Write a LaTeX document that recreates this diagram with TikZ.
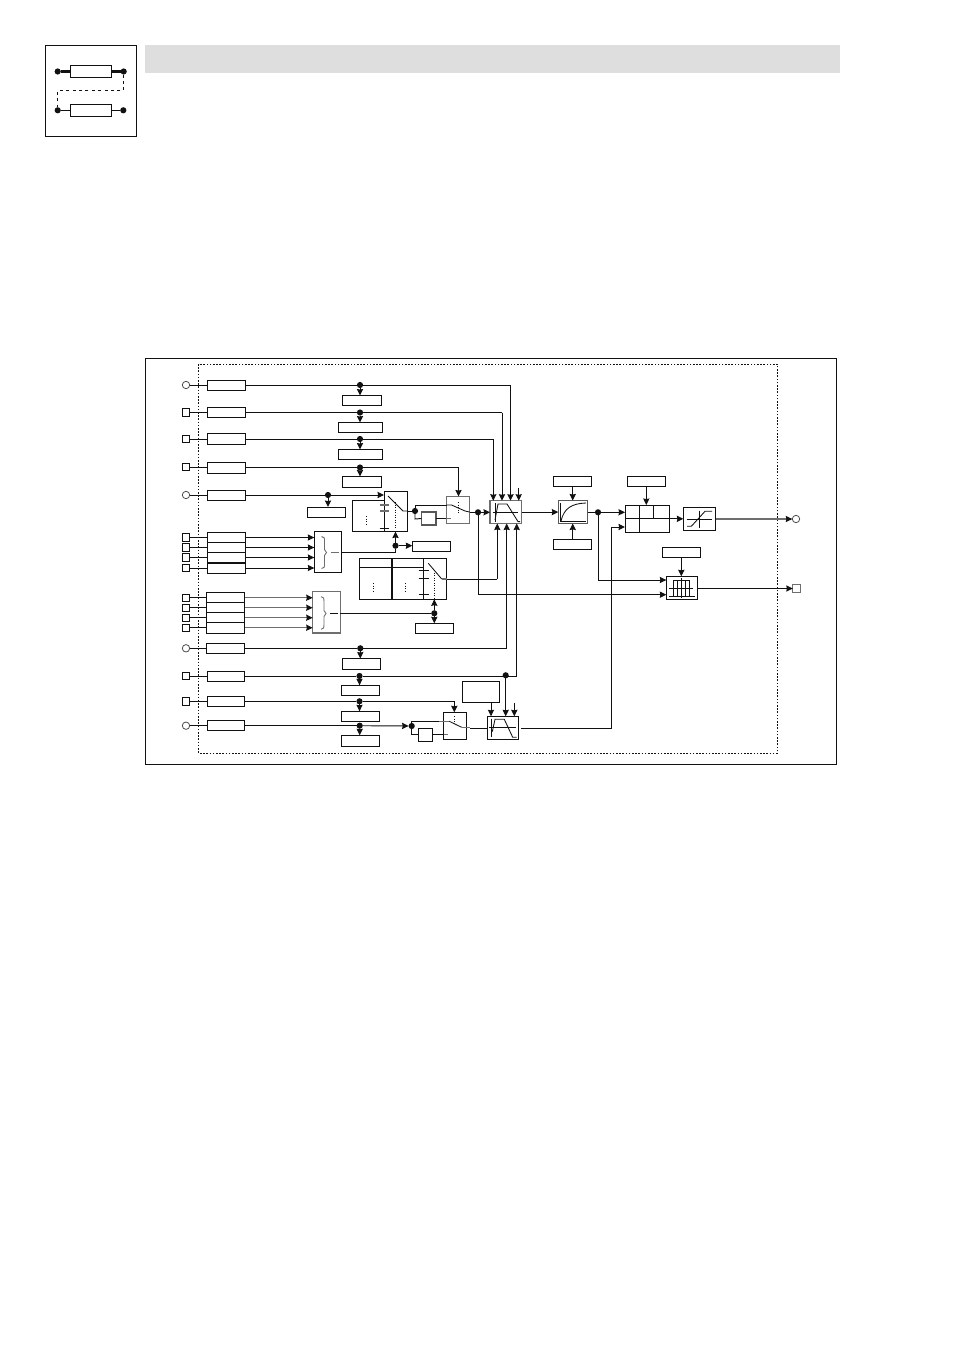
\documentclass[tikz,border=0pt]{standalone}
\usetikzlibrary{arrows.meta}
\definecolor{ink}{HTML}{111111}
\definecolor{soft}{HTML}{6E6E6E}
\definecolor{band}{HTML}{DEDEDE}
\tikzset{
  boxst/.style={draw=ink,line width=0.95pt,rectangle,inner sep=0pt,outer sep=0pt,fill=white},
  softbox/.style={boxst,draw=soft,line width=1.2pt},
  darksoft/.style={boxst,draw=ink!70!white,line width=1.2pt},
  insq/.style={draw=ink,line width=0.8pt,rectangle,inner sep=0pt,outer sep=0pt,minimum size=7.4pt,fill=white},
  incirc/.style={draw=ink!75!white,line width=0.8pt,circle,inner sep=0pt,outer sep=0pt,minimum size=7.4pt,fill=white},
  dotst/.style={circle,fill=ink,inner sep=0pt,outer sep=0pt,minimum size=6.2pt},
  wire/.style={draw=ink,line width=0.95pt},
  softwire/.style={draw=soft,line width=1.1pt},
  arr/.style={wire,-{Stealth[length=6.5pt,width=6.2pt,inset=0.6pt]}},
  softarr/.style={draw=soft,line width=1.1pt,-{Stealth[length=6.5pt,width=6.2pt,inset=0.6pt,color=ink]}},
  thin line/.style={draw=ink,line width=0.85pt},
  dotline/.style={draw=ink,line width=0.85pt,dash pattern=on 1.3pt off 1.2pt},
  framedash/.style={draw=ink,line width=0.7pt,dash pattern=on 1.6pt off 1.6pt},
}
\newcommand\bx[6][boxst]{%
  \pgfmathsetmacro\bxw{#5-#3}\pgfmathsetmacro\bxh{#6-#4}%
  \pgfmathsetmacro\bxx{(#5+#3)/2}\pgfmathsetmacro\bxy{(#6+#4)/2}%
  \node[#1,minimum width=\bxw pt,minimum height=\bxh pt] (#2) at (\bxx,\bxy) {};}
\newcommand\dt[3]{\node[dotst] (#1) at (#2,#3) {};}
\begin{document}
\begin{tikzpicture}[x=1pt,y=-1pt]
\useasboundingbox (0,0) rectangle (953,1348);
% header
\bx[draw=none,fill=band,rectangle,inner sep=0pt]{head}{145}{45}{840}{73}
\bx{icon}{45.5}{45}{136.5}{136}
\bx{ictop}{70}{65.3}{111.7}{77.7}
\bx{icbot}{70}{104.3}{111.7}{116.3}
\dt{ia}{57.7}{71.5}\dt{ib}{123.7}{71.5}\dt{ic}{57.7}{110.3}\dt{id}{123.3}{110.3}
\draw[ink,line width=2.6pt] (ia) -- (ictop) (ictop) -- (ib);
\draw[wire] (ic) -- (icbot) (icbot) -- (id);
\draw[draw=ink,line width=0.9pt,dash pattern=on 3pt off 3.4pt] (ib) -- (123.7,90.5) -- (57.7,90.5) -- (ic);
% frame
\bx{frame}{145.5}{358.5}{836.5}{764.5}
\draw[ink,line width=1.5pt] (frame.north east) -- (frame.south east);
\draw[framedash] (198.5,364) rectangle (777.5,753);

% ---- rows of inputs
\node[incirc] (i1) at (186,385) {};
\node[insq]   (i2) at (186,412.5) {};
\node[insq]   (i3) at (186,439) {};
\node[insq]   (i4) at (186,467) {};
\node[incirc] (i5) at (186,495) {};
\node[insq]   (g1) at (186,537.5) {};
\node[insq]   (g2) at (186,547.5) {};
\node[insq]   (g3) at (186,557.5) {};
\node[insq]   (g4) at (186,568) {};
\node[insq]   (h1) at (186,597.7) {};
\node[insq]   (h2) at (186,607.7) {};
\node[insq]   (h3) at (186,617.7) {};
\node[insq]   (h4) at (186,627.7) {};
\node[incirc] (i6) at (186,648.3) {};
\node[insq]   (i7) at (186,676) {};
\node[insq]   (i8) at (186,701.3) {};
\node[incirc] (i9) at (186,725.7) {};

\bx{b1}{207.5}{380}{245.5}{390}
\bx{b2}{207.5}{407.5}{245.5}{417.5}
\bx{b3}{207.5}{433.5}{245.5}{444.5}
\bx{b4}{207.5}{462}{245.5}{473}
\bx{b5}{207.5}{490}{245.5}{500}
\bx{c1}{207.5}{532.5}{245.5}{542.5}
\bx{c2}{207.5}{542.5}{245.5}{552.5}
\bx{c3}{207.5}{552.5}{245.5}{562.5}
\bx{c4}{207.5}{563}{245.5}{573}
\draw[ink,line width=1.5pt] (c4.north west) -- (c4.north east);
\bx{d1}{206.5}{592.5}{244.5}{602.5}
\bx{d2}{206.5}{602.5}{244.5}{612.5}
\bx{d3}{206.5}{612.5}{244.5}{622.5}
\bx{d4}{206.5}{622.5}{244.5}{633}
\draw[ink,line width=1.5pt] (d1.south west) -- (d1.south east) (d4.north west) -- (d4.north east);
\bx{b6}{206.5}{643.3}{244.5}{653.3}
\bx{b7}{207.3}{671}{244.5}{681}
\bx{b8}{207.3}{696.3}{244.5}{706.3}
\bx{b9}{207.3}{720.7}{244.5}{730.7}

\foreach \a/\b in {i1/b1,i2/b2,i3/b3,i4/b4,i5/b5,g1/c1,g2/c2,g3/c3,g4/c4,h1/d1,h2/d2,h3/d3,h4/d4,i6/b6,i7/b7,i8/b8,i9/b9}
  \draw[wire] (\a) -- (\a -| \b.west);

% side boxes under rows
\bx{p1}{342}{395.5}{381}{405.5}
\bx{p2}{338}{422.5}{382.5}{432.5}
\bx{p3}{338}{449.5}{382.5}{459.5}
\bx{p4}{342}{476.5}{381}{487}
\bx{p5}{307.5}{507}{345.5}{517.5}
\bx{p6}{342.3}{658.5}{380.7}{669.3}
\bx{p7}{341.3}{685.3}{379.7}{695.7}
\bx{p8}{341.3}{711.3}{379.7}{721.3}
\bx{p9}{341.3}{735.3}{379.7}{746.3}
\dt{r1}{360}{385}\dt{r2}{360}{412.5}\dt{r3}{360}{439}\dt{r4}{360}{467.5}\dt{r5}{328}{495}
\dt{r6}{360.3}{648.3}\dt{r7}{359.5}{676}\dt{r8}{359.5}{701.3}\dt{r9}{359.7}{725.7}
\foreach \n in {1,...,9}
  \draw[arr] (r\n) -- (r\n |- p\n.north);

% selector 1
\bx{selb}{352.5}{500}{384}{531.5}
\bx{sela}{384}{491}{407.5}{531.5}
\draw[softwire] (379.5,505) -- (388.5,505) (379.5,511) -- (388.5,511);
\draw[thin line] (379.5,528) -- (388.5,528);
\draw[dotline] (366.5,516) -- (366.5,524);
\draw[thin line] (388,496) -- (403,511) -- (407.5,511);
\draw[dotline] (395.5,502) -- (395.5,528);
% selector 2
\bx{seld}{359.3}{558.7}{391.7}{599.3}
\bx{sele}{391.7}{558.7}{446.5}{599.3}
\draw[ink,line width=1.8pt] (seld.north east) -- (seld.south east);
\draw[thin line] (seld.west |- 0,567.3) -- (423.3,567.3);
\draw[thin line] (423.3,558.7) -- (423.3,599.3);
\foreach \yy in {570.7,578.3,594} \draw[thin line] (418.5,\yy) -- (428.5,\yy);
\draw[dotline] (373.3,583) -- (373.3,592);
\draw[dotline] (405.3,583) -- (405.3,592);
\draw[thin line] (428.3,563.3) -- (441.7,579);
\draw[dotline] (434.3,570) -- (434.3,599);
\draw[softwire] (441.7,579) -- (446.5,579);

% encoder boxes
\bx{encC}{314.3}{531.3}{341.7}{572.3}
\bx[softbox]{encE}{312.7}{591.7}{340.3}{633}
\draw[soft,line width=0.9pt] (321.5,536.5) .. controls (324.5,537.5) .. (324.5,541) -- (324.5,549.5) -- (326.5,552.5) -- (324.5,555.5) -- (324.5,564) .. controls (324.5,567.5) .. (321.5,568.5);
\draw[soft,line width=0.9pt] (321,596.7) .. controls (324,597.7) .. (324,601) -- (324,610.5) -- (326,613.5) -- (324,616.5) -- (324,625) .. controls (324,628.3) .. (321,629.3);
\draw[soft,line width=0.9pt] (331,552.7) -- (339,552.7);
\draw[ink,line width=0.9pt] (330,613.3) -- (338,613.3);
\foreach \a/\n in {c1/g1,c2/g2,c3/g3,c4/g4}
  \draw[arr] (\a.east |- \n) -- (encC.west |- \n);
\foreach \a/\n in {d1/h1,d2/h2,d3/h3,d4/h4}
  \draw[softarr] (\a.east |- \n) -- (encE.west |- \n);
\bx{q1}{412.3}{541.3}{450.3}{551.3}
\bx{q2}{415.3}{623.3}{453.3}{633.7}
\dt{s1}{395.5}{545.7}\dt{s2}{434.3}{613.3}
\draw[wire] (encC.east |- 0,552.3) -- (395.5,552.3) -- (s1);
\draw[arr] (s1) -- (s1 |- sela.south);
\draw[arr] (s1) -- (q1.west |- s1);
\draw[wire] (encE.east |- s2) -- (s2);
\draw[arr] (s2) -- (s2 |- sele.south);
\draw[arr] (s2) -- (s2 |- q2.north);

% switch 1
\bx[softbox]{swA}{446.5}{496.5}{469.5}{523.5}
\bx[darksoft]{dl1}{421.5}{512}{436}{525}
\dt{s3}{415}{511}
\draw[wire] (sela.east |- s3) -- (s3);
\draw[wire] (s3) -- (415,505) -- (446.5,505);
\draw[wire] (s3) -- (415,519) -- (dl1.west);
\draw[wire] (dl1.east) -- (446,518.5);
\draw[softwire] (446,518.5) -- (451,518.5);
\draw[thin line] (446.5,505) -- (451.5,505) -- (465,511) -- (469.5,512);
\draw[dotline] (458.5,502) -- (458.5,513);
\coordinate (k4) at (458.5,467.5);
\draw[wire] (b4) -- (r4) (r4) -- (k4);
\draw[arr] (k4) -- (k4 |- swA.north);
\draw[wire] (b5) -- (r5);
\draw[arr] (r5) -- (384,495);

% filter 1
\bx[softbox]{filt}{490}{500.7}{521.7}{523.5}
\draw[thin line] (495,503) -- (495,522);
\draw[thin line] (492.7,512) -- (518,512);
\draw[thin line] (495,520) -- (498,504) -- (507,504) -- (518,521.6) -- (520,521.6);
\dt{s4}{478}{512.3}
\draw[wire] (swA.east |- s4) -- (s4);
\draw[arr] (s4) -- (s4 -| filt.west);
\coordinate (k1) at (510.5,385);
\coordinate (k2) at (502,412.5);
\coordinate (k3) at (493.3,439);
\draw[wire] (b1) -- (r1) (r1) -- (k1);
\draw[wire] (b2) -- (r2) (r2) -- (k2);
\draw[wire] (b3) -- (r3) (r3) -- (k3);
\draw[arr] (k1) -- (k1 |- filt.north);
\draw[arr] (k2) -- (k2 |- filt.north);
\draw[arr] (k3) -- (k3 |- filt.north);
\coordinate (k0) at (518.7,488);
\draw[arr] (k0) -- (k0 |- filt.north);
% bottom of filter
\coordinate (m1) at (497.3,579);
\draw[wire] (sele.east |- m1) -- (m1);
\draw[arr] (m1) -- (m1 |- filt.south);
\coordinate (m2) at (506.7,648.3);
\draw[wire] (b6) -- (r6) (r6) -- (m2);
\draw[arr] (m2) -- (m2 |- filt.south);
\coordinate (m3) at (516.7,676);
\draw[wire] (b7) -- (r7) (r7) -- (m3);
\draw[arr] (m3) -- (m3 |- filt.south);

% ramp
\bx[darksoft]{ramp}{558.3}{500.7}{587.5}{523.5}
\draw[thin line] (560.7,503) -- (560.7,522);
\draw[thin line] (560.7,521.7) -- (586,521.7);
\draw[thin line] (561,521) .. controls (564,508) and (572,503.5) .. (586,503);
\bx{rt}{553.3}{476.3}{591.7}{486.3}
\bx{rb}{553.3}{539.3}{591.7}{549.3}
\draw[arr] (rt.south -| 572.7,0) -- (572.7,500.5);
\draw[arr] (rb.north -| 572.7,0) -- (572.7,523.5);
\draw[arr] (filt.east) -- (ramp.west);

% combiner
\bx{comb}{625}{505.3}{669.5}{532.3}
\draw[thin line] (comb.west) -- (comb.east);
\draw[thin line] (639.3,505.3) -- (639.3,532.3);
\draw[thin line] (653.3,505.3) -- (653.3,519);
\bx{ct}{627.3}{476.3}{665.3}{486.3}
\draw[arr] (646.3,486.3) -- (646.3,505);
\dt{s5}{598}{512.3}
\draw[wire] (ramp.east |- s5) -- (s5);
\draw[arr] (s5) -- (s5 -| comb.west);
% limiter
\bx{lim}{683.3}{507.3}{715.7}{530.7}
\draw[thin line] (686.7,519.3) -- (712,519.3);
\draw[thin line] (699.3,510.7) -- (699.3,528);
\draw[thin line] (687,526.3) -- (691.3,526.3) -- (705,511.3) -- (712,511.3);
\draw[arr] (comb.east) -- (lim.west |- comb.east);
\node[incirc] (o1) at (796,519) {};
\draw[softarr] (lim.east |- o1) -- (o1.west);
% comparator
\bx{wnd}{666.3}{576.3}{697.3}{599.3}
\bx{wt}{662.3}{547.3}{700.3}{557.7}
\draw[arr] (681.3,557.7) -- (681.3,576.3);
\draw[thin line] (669,588.3) -- (693,588.3);
\draw[thin line] (669,596) -- (695,596);
\draw[thin line] (681.3,578) -- (681.3,597.5);
\draw[thin line] (673.3,596) -- (673.3,580.3) -- (689.3,580.3) -- (689.3,596);
\draw[thin line] (677.3,580.3) -- (677.3,596) (685.3,580.3) -- (685.3,596);
\node[insq,draw=soft,line width=1pt] (o2) at (796.5,588.5) {};
\draw[arr] (wnd.east |- o2) -- (o2.west);
\coordinate (m4) at (598,580);
\coordinate (m5) at (478,594.7);
\draw[wire] (s5) -- (m4);
\draw[arr] (m4) -- (m4 -| wnd.west);
\draw[wire] (s4) -- (m5);
\draw[arr] (m5) -- (m5 -| wnd.west);

% lower branch
\bx{swB}{443.3}{712.3}{466.7}{739.3}
\bx{dl2}{418.3}{728.3}{432.7}{741.7}
\dt{s6}{411.7}{726}
\draw[wire] (b9) -- (r9);
\draw[arr] (r9) -- (s6);
\draw[wire] (s6) -- (411.7,721.3) -- (443.3,721.3);
\draw[wire] (s6) -- (411.7,734.5) -- (dl2.west |- 0,734.5);
\draw[wire] (dl2.east |- 0,734.5) -- (444,734.5);
\draw[softwire] (444,734.5) -- (448.3,734.5);
\draw[softwire] (439,721.3) -- (449.3,721.3);
\draw[thin line] (449.3,721.3) -- (461.7,727.3);
\draw[softwire] (461.7,727.7) -- (470,727.7);
\draw[dotline] (454.3,716) -- (454.3,723);
\coordinate (k8) at (454.3,701.3);
\draw[wire] (b8) -- (r8) (r8) -- (k8);
\draw[arr] (k8) -- (k8 |- swB.north);
% filter 2
\bx{filtB}{487.3}{716.3}{518.7}{739.3}
\draw[thin line] (491.3,718.7) -- (491.3,736.7);
\draw[thin line] (489.3,727.3) -- (516,727.3);
\draw[thin line] (492.3,731.7) -- (495,719.3) -- (504.3,719.3) -- (512.7,737.3) -- (516.7,737.3);
\draw[wire] (470,728.3) -- (filtB.west |- 0,728.3);
\bx{ex}{462.3}{681.3}{499.3}{702.3}
\draw[arr] (491,702.3) -- (491,716.3);
\dt{s7}{505.7}{675.3}
\draw[arr] (s7) -- (s7 |- filtB.north);
\coordinate (k9) at (514.3,703.3);
\draw[arr] (k9) -- (k9 |- filtB.north);
\coordinate (m6) at (521,728.3);
\coordinate (m7) at (611.7,728.3);
\coordinate (m8) at (611.7,527);
\draw[wire] (m6) -- (m7) -- (m8);
\draw[arr] (m8) -- (m8 -| comb.west);
\end{tikzpicture}
\end{document}
